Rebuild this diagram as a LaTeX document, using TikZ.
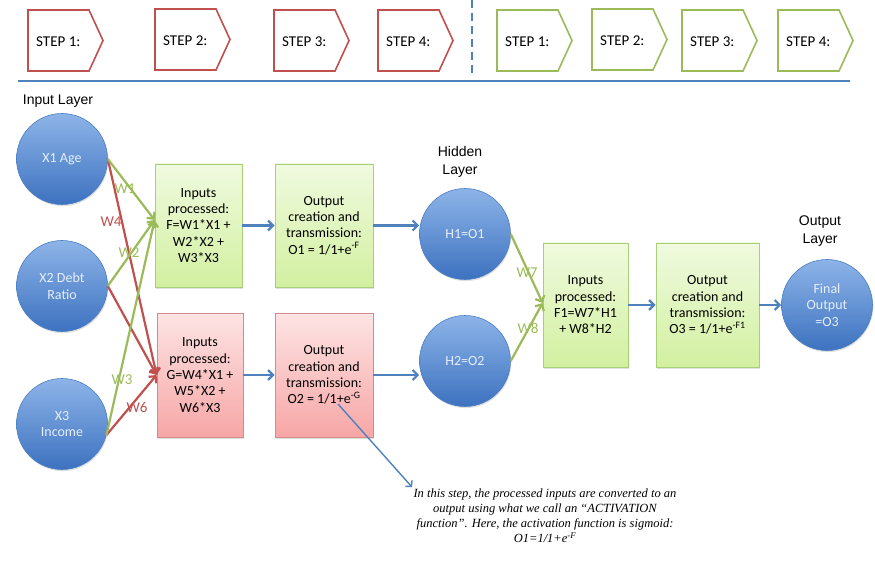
\documentclass[tikz,border=0pt]{standalone}
\usepackage{fontspec}
\setmainfont{Carlito}
\newfontfamily\arialf{Liberation Sans}
\newfontfamily\notef{Liberation Serif}
\usetikzlibrary{arrows.meta,shadows}
\definecolor{ored}{HTML}{C0504D}
\definecolor{ogreen}{HTML}{9BBB59}
\definecolor{oblue}{HTML}{4F81BD}
\definecolor{ctop}{HTML}{8DB4E8}
\definecolor{cbot}{HTML}{3D72C0}
\definecolor{cborder}{HTML}{4A7EC2}
\definecolor{gtop}{HTML}{F0FADF}
\definecolor{gbot}{HTML}{D2F0A0}
\definecolor{gborder}{HTML}{A8CF78}
\definecolor{rtop}{HTML}{FDE4E4}
\definecolor{rbot}{HTML}{F7A6A6}
\definecolor{rborder}{HTML}{D58A8A}
\definecolor{ctext}{HTML}{E6EEFA}
\newcommand\chevron[4]{% left x, top y, colour, name
  \draw[#3, line width=1.6pt, line join=miter] (#1,#2) -- ++(61,0) -- ++(14,30.5) -- ++(-14,30.5) -- ++(-61,0) -- cycle;
  \node[steptext, anchor=west] (#4) at (#1+8,#2+32) {};
}
\begin{document}
\begin{tikzpicture}[x=1pt,y=-1pt,
  steptext/.style={font=\fontsize{15}{17}\selectfont, inner sep=0},
  neuron/.style={circle, minimum size=91pt, inner sep=0, draw=cborder, line width=0.6pt,
    top color=ctop, bottom color=cbot, text=ctext, align=center,
    font=\fontsize{14}{16.5}\selectfont,
    drop shadow={shadow xshift=0.8pt, shadow yshift=-1.6pt, opacity=0.25}},
  gbox/.style={rectangle, inner sep=0, draw=gborder, line width=0.8pt, top color=gtop, bottom color=gbot,
    align=center, font=\fontsize{14}{16.3}\selectfont,
    drop shadow={shadow xshift=0.8pt, shadow yshift=-1.6pt, opacity=0.25}},
  rbox/.style={gbox, draw=rborder, top color=rtop, bottom color=rbot},
  layerlab/.style={font=\arialf\fontsize{14}{17.5}\selectfont, align=center, inner sep=0},
  wlab/.style={font=\fontsize{15}{16}\selectfont, inner sep=0},
  garrow/.style={draw=ogreen, line width=2.2pt, -{Straight Barb[length=5pt,width=10pt]}},
  rarrow/.style={draw=ored, line width=2.2pt, -{Straight Barb[length=5pt,width=10pt]}},
  barrow/.style={draw=oblue, line width=2.2pt, -{Straight Barb[length=5pt,width=10pt]}},
  narrow/.style={draw=oblue, line width=1.4pt, -{Straight Barb[length=4pt,width=9pt]}}
]
\useasboundingbox (0,0) rectangle (875,585);

% step banners
\chevron{28}{10}{ored}{s1}
\chevron{155}{9}{ored}{s2}
\chevron{274}{10}{ored}{s3}
\chevron{378}{10}{ored}{s4}
\chevron{497}{10}{ogreen}{t1}
\chevron{592}{9}{ogreen}{t2}
\chevron{682}{10}{ogreen}{t3}
\chevron{778}{10}{ogreen}{t4}
\node[steptext, anchor=west] at (s1.west) {STEP 1:};
\node[steptext, anchor=west] at (s2.west) {STEP 2:};
\node[steptext, anchor=west] at (s3.west) {STEP 3:};
\node[steptext, anchor=west] at (s4.west) {STEP 4:};
\node[steptext, anchor=west] at (t1.west) {STEP 1:};
\node[steptext, anchor=west] at (t2.west) {STEP 2:};
\node[steptext, anchor=west] at (t3.west) {STEP 3:};
\node[steptext, anchor=west] at (t4.west) {STEP 4:};

\draw[oblue, line width=2.4pt] (18,81) -- (850,81);
\draw[oblue, line width=2pt, dash pattern=on 8pt off 5pt] (472,0) -- (472,74);

% layer labels
\node[layerlab] (inl) at (58,101) {Input Layer};
\node[layerlab] (hidl) at (460,162) {Hidden\\Layer};
\node[layerlab] (outl) at (820,231) {Output\\Layer};

% input neurons
\node[neuron] (X1) at (62,159) {X1 Age};
\node[neuron] (X2) at (62,286) {X2 Debt\\Ratio};
\node[neuron] (X3) at (62,424) {X3\\Income};

% processing boxes
\node[gbox, minimum width=87pt, minimum height=123pt] (F) at (198.5,225.5)
  {Inputs\\processed:\\F=W1*X1 +\\W2*X2 +\\W3*X3};
\node[gbox, minimum width=98pt, minimum height=123pt] (O1) at (324,225.5)
  {Output\\creation and\\transmission:\\O1 = 1/1+e\textsuperscript{-F}};
\node[rbox, minimum width=86pt, minimum height=124pt] (G) at (200,375)
  {Inputs\\processed:\\G=W4*X1 +\\W5*X2 +\\W6*X3};
\node[rbox, minimum width=98pt, minimum height=124pt] (O2) at (324,375)
  {Output\\creation and\\transmission:\\O2 = 1/1+e\textsuperscript{-G}};

% hidden neurons
\node[neuron] (H1) at (465,234) {H1=O1};
\node[neuron] (H2) at (465,361) {H2=O2};

\node[gbox, minimum width=85pt, minimum height=124pt] (F1) at (585.5,305)
  {Inputs\\processed:\\F1=W7*H1\\+ W8*H2};
\node[gbox, minimum width=103pt, minimum height=124pt] (O3) at (707.5,305)
  {Output\\creation and\\transmission:\\O3 = 1/1+e\textsuperscript{-F1}};

\node[neuron] (FO) at (827,305) {Final\\Output\\=O3};

% input connections
\coordinate (Fin) at ([yshift=5.5pt]F.west);
\draw[rarrow] (X1.east) -- (G.west);
\draw[rarrow] (X2.east) -- (G.west);
\draw[rarrow] (X3.-14) -- (G.west);
\draw[garrow] (X1.east) -- (Fin);
\draw[garrow] (X2.east) -- (Fin);
\draw[garrow] (X3.-14) -- (Fin);

\node[wlab, text=ogreen] (w1) at (125,189) {W1};
\node[wlab, text=ored] (w4) at (111,222) {W4};
\node[wlab, text=ogreen] (w2) at (129,253) {W2};
\node[wlab, text=ogreen] (w3) at (122,380) {W3};
\node[wlab, text=ored] (w6) at (137,407) {W6};

% blue flow
\draw[barrow] (F.east) -- (O1.west);
\draw[barrow] (G.east) -- (O2.west);
\draw[barrow] (O1.east) -- (O1.east -| H1.west);
\draw[barrow] (O2.east) -- (O2.east -| H2.west);
\draw[barrow] (F1.east) -- (O3.west);
\draw[barrow] (O3.east) -- (FO.west);

% hidden to output
\draw[garrow] (H1.east) -- ([yshift=2pt]F1.west);
\draw[garrow] (H2.east) -- ([yshift=2pt]F1.west);
\node[wlab, text=ogreen] (w7) at (527,273) {W7};
\node[wlab, text=ogreen] (w8) at (528,328) {W8};

% annotation
\node[font=\notef\itshape\fontsize{12.5}{15}\selectfont, align=center, inner sep=0] (note) at (545,516)
  {In this step, the processed inputs are converted to an\\
   output using what we call an “ACTIVATION\\
   function”. Here, the activation function is sigmoid:\\
   O1=1/1+e\textsuperscript{-F}};
\coordinate (annstart) at (338,404);
\coordinate (annend) at (412,487);
\draw[narrow] (annstart) -- (annend);
\end{tikzpicture}
\end{document}
